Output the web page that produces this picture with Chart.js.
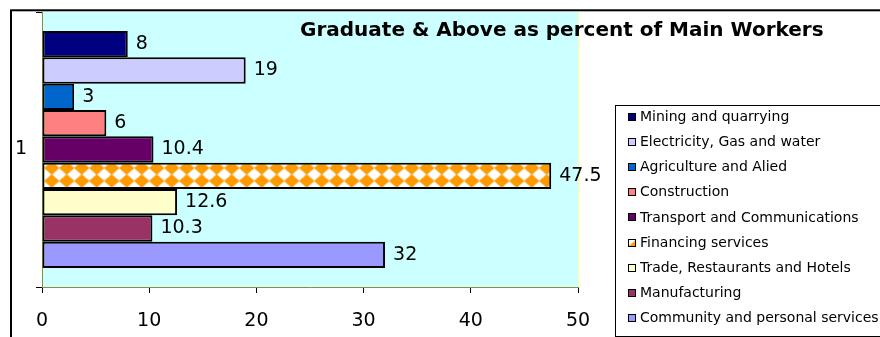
<!DOCTYPE html>
<html><head><meta charset="utf-8">
<script src="https://cdn.jsdelivr.net/npm/chart.js@4"></script>
<style>html,body{margin:0;padding:0;background:#fff}#wrap{width:880px;height:337px;position:relative}</style>
</head><body><div id="wrap"><canvas id="c" width="880" height="337"></canvas></div>
<script>
const categories = ['1'];
const seriesNames = ['Mining and quarrying','Electricity, Gas and water','Agriculture and Alied','Construction','Transport and Communications','Financing services','Trade, Restaurants and Hotels','Manufacturing','Community and personal services'];
const seriesValues = [8, 19, 3, 6, 10.4, 47.5, 12.6, 10.3, 32];
const seriesColors = ['#000080','#CCCCFF','#0066CC','#FF8080','#660066','PATTERN','#FFFFCC','#993366','#9999FF'];
const xTickValues = [0, 10, 20, 30, 40, 50];
const titleText = 'Graduate & Above as percent of Main Workers';

const FONT = "'DejaVu Sans', sans-serif";
const canvas = document.getElementById('c');
const ctx = canvas.getContext('2d');

function makePattern(){
  const t = document.createElement('canvas'); t.width = 15; t.height = 13;
  const g = t.getContext('2d');
  g.fillStyle = '#fff'; g.fillRect(0,0,15,13);
  g.fillStyle = '#FF9900';
  g.beginPath(); g.moveTo(7.5,-0.3); g.lineTo(15.3,6.5); g.lineTo(7.5,13.3); g.lineTo(-0.3,6.5); g.closePath(); g.fill();
  const p = ctx.createPattern(t, 'repeat');
  if (p.setTransform) p.setTransform(new DOMMatrix().translate(14.2, 5.5));
  return p;
}
const pattern = makePattern();

const datasets = seriesNames.map((n, i) => ({
  label: n,
  data: [seriesValues[i]],
  backgroundColor: seriesColors[i] === 'PATTERN' ? pattern : seriesColors[i],
  borderColor: '#000',
  borderWidth: 2,
  borderSkipped: false,
  barPercentage: 1,
  categoryPercentage: 0.862
}));

const bgPlugin = {
  id: 'bg',
  beforeDraw(chart){
    const c = chart.ctx, a = chart.chartArea;
    c.save();
    c.fillStyle = '#fff'; c.fillRect(0,0,chart.width,chart.height);
    c.fillStyle = '#CCFFFF'; c.fillRect(a.left, a.top, a.right - a.left, a.bottom - a.top);
    c.strokeStyle = '#FFFF99'; c.lineWidth = 1;
    c.beginPath(); c.moveTo(a.right + 0.5, a.top); c.lineTo(a.right + 0.5, a.bottom); c.stroke();
    c.restore();
  },
  afterDraw(chart){
    const c = chart.ctx;
    c.save();
    c.strokeStyle = '#000'; c.lineWidth = 2;
    c.strokeRect(11, 10.3, 900, 400);
    c.fillStyle = '#000';
    c.font = "bold 20px " + FONT;
    c.textBaseline = 'middle'; c.textAlign = 'left';
    c.fillText(titleText, 300, 31);
    c.strokeStyle = '#000'; c.lineWidth = 1;
    c.strokeRect(615.5, 105.5, 300, 231);
    c.font = "14px " + FONT;
    chart.data.datasets.forEach((ds, i) => {
      const y = 117 + i * 25.1;
      c.fillStyle = ds.backgroundColor;
      c.fillRect(628, Math.round(y) - 4, 8, 8);
      c.strokeStyle = '#000'; c.lineWidth = 1;
      c.strokeRect(628.5, Math.round(y) - 3.5, 7, 7);
      c.fillStyle = '#000';
      c.fillText(ds.label, 640, y + 0.5);
    });
    c.restore();
  }
};

const labelPlugin = {
  id: 'vlabels',
  afterDatasetsDraw(chart){
    const c = chart.ctx;
    c.save();
    c.font = "19px " + FONT; c.fillStyle = '#000';
    c.textBaseline = 'middle'; c.textAlign = 'left';
    chart.data.datasets.forEach((ds, i) => {
      const meta = chart.getDatasetMeta(i);
      meta.data.forEach((el, j) => {
        c.fillText(String(ds.data[j]), el.x + 8, el.y);
      });
    });
    c.restore();
  }
};

new Chart(canvas, {
  type: 'bar',
  data: { labels: categories, datasets },
  options: {
    indexAxis: 'y',
    responsive: false,
    animation: false,
    devicePixelRatio: 1,
    layout: { padding: { top: 12, right: 302, left: 0, bottom: 0 } },
    plugins: { legend: { display: false }, title: { display: false }, tooltip: { enabled: false } },
    scales: {
      x: {
        type: 'linear', min: 0, max: 50,
        afterFit(s){ s.height = 50; s.paddingLeft = 0; s.paddingRight = 0; },
        afterBuildTicks(s){ s.ticks = xTickValues.map(v => ({value: v})); },
        grid: { drawOnChartArea: false, tickLength: 6, tickColor: '#000', lineWidth: 1 },
        border: { color: '#8C8C3C', width: 1 },
        ticks: { font: { family: FONT, size: 19 }, color: '#000', padding: 17 }
      },
      y: {
        type: 'category',
        afterFit(s){ s.width = 42; s.paddingTop = 0; s.paddingBottom = 0; },
        grid: { drawOnChartArea: false, offset: true, tickLength: 6, tickColor: '#000' },
        border: { color: '#8C8C3C', width: 1 },
        ticks: { font: { family: FONT, size: 19 }, color: '#000', padding: 9 }
      }
    }
  },
  plugins: [bgPlugin, labelPlugin]
});
</script></body></html>
